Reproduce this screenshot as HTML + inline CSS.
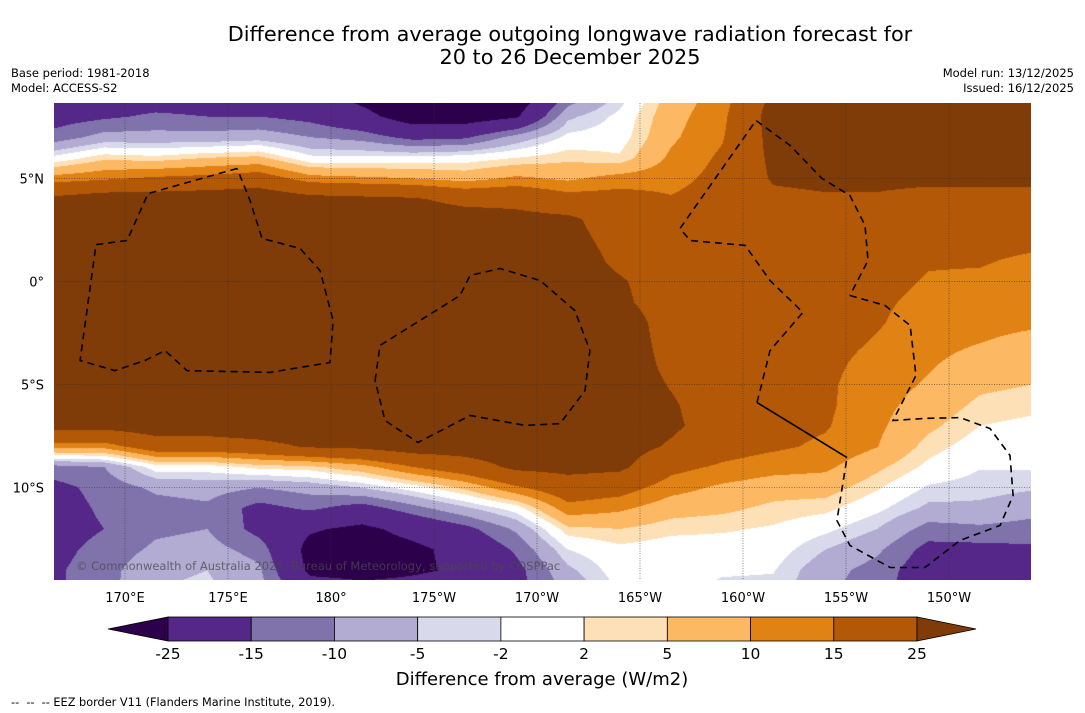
<!DOCTYPE html>
<html><head><meta charset="utf-8">
<style>
html,body{margin:0;padding:0;background:#fff;}
#wrap{position:relative;width:1085px;height:713px;overflow:hidden;font-family:"DejaVu Sans","Liberation Sans",sans-serif;color:#000;}
canvas{position:absolute;left:54px;top:103px;}
svg{position:absolute;left:0;top:0;}
</style></head>
<body>
<div id="wrap">
<canvas id="map" width="977" height="477"></canvas>
<svg id="ov" width="1085" height="713"></svg>
</div>
<script>
// ---- data ----
const gridLons = [166.5,169,171.5,174,176.5,179,181.5,184,186.5,189,191.5,194,196.5,199,201.5,204,206.5,209,211.5,214];
const gridLats = [9,8,7,6,5,4,3,2,1,0,-1,-2,-3,-4,-5,-6,-7,-8,-9,-10,-11,-12,-13,-14,-15];
const col0 = [-20,-18,-13,-1,12,27,30,30,30,30,30,30,30,30,30,30,28,12,-12,-17,-18,-18,-17,-16,-16];
const col1 = [-19,-16,-8,4,14,30,30,30,30,30,30,30,30,30,30,30,28,12,-10,-13,-14,-15,-13,-12,-12];
const col2 = [-19,-14,-8,3,16,30,30,30,30,30,30,30,30,30,30,30,30,20,0,-9,-12,-11,-9,-6,-5];
const col3 = [-19,-15,-8,5,17,31,30,30,30,30,30,30,30,30,30,30,30,20,0,-8,-11,-10,-8,-5,-4];
const col4 = [-20,-15,-7,6,19,32,31,31,31,31,31,31,31,31,31,31,31,22,3,-10,-17,-17,-12,-9,-8];
const col5 = [-21,-17,-10,-1,12,28,31,31,31,31,31,31,31,31,31,31,32,26,4,-8,-14,-24,-28,-27,-20];
const col6 = [-28,-22,-12,-1,11,27,31,31,31,31,31,31,31,31,31,31,32,27,8,-5,-18,-27,-30,-28,-22];
const col7 = [-34,-30,-17,-1,10,26,31,31,31,31,31,31,31,31,31,31,32,30,15,0,-12,-22,-27,-26,-22];
const col8 = [-34,-30,-16,0,8,22,30,31,31,31,31,31,31,31,31,31,32,30,20,6,-6,-17,-22,-24,-20];
const col9 = [-32,-26,-8,2,11,22,28,30,30,30,30,30,30,30,30,30,32,31,27,14,0,-9,-14,-17,-17];
const col10 = [-14,-6,-1,4,9,18,27,28,30,30,30,30,30,30,30,30,31,30,28,20,13,4,-2,-6,-9];
const col11 = [-4,-1,0,2.5,12,18,20,22,23,26,27,30,30,30,30,30,30,29,27,18,11,5,1,0,-1.5];
const col12 = [7,8,9,11,13,15.5,17,18,19,20,20,21,22,23,24.5,26,26.5,24,17,12,7,3,0,0,-1];
const col13 = [12,13.5,14.5,16,17,18,19,19,19,19,19,19,19.5,20,20,20,21,18,14,9,6,2.5,0,-1.5,-3];
const col14 = [27,29,28,27,26,23,21,20,20,19,18,18,18,18,18,18,17,16,12,7,4,1.5,0,-1.8,-3];
const col15 = [32,31,30,29,27,24,22,21,20,19,18,17,17,16.5,16,16,15.5,14,11,7,3,-1,-5,-8,-9];
const col16 = [33,32,31,30,27,24,21,19,18,17,16,15.5,14.5,13,12,11.5,11,10.2,6,2.5,-1,-5,-9,-12,-13];
const col17 = [33,32,31,30,27,22,19,17,15.5,14.5,13.5,12.5,11.5,10.5,9.5,8,6,3.5,1,-2.5,-6,-12,-17,-19,-19];
const col18 = [33,32,31,30,27,22,19,17,15.5,14,12.5,11,10,8,6,4,2,0,-1.8,-3.5,-6,-11,-17,-19,-19];
const col19 = [33,32,31,30,27,22,18,16.5,14,12.5,11.5,10.5,9,7,5,3,1,0,-1.5,-4.5,-8,-12,-16,-18,-18];
const levels = [-25,-15,-10,-5,-2,2,5,10,15,25];
const levelColors = ["#2d004b","#542788","#8073ac","#b2abd2","#d8daeb","#ffffff","#fee0b6","#fdb863","#e08214","#b35806","#7f3b08"];
const lonTicks = [170,175,180,185,190,195,200,205,210];
const lonTickLabels = ["170°E","175°E","180°","175°W","170°W","165°W","160°W","155°W","150°W"];
const latTicks = [5,0,-5,-10];
const latTickLabels = ["5°N","0°","5°S","10°S"];
// EEZ borders (lon, lat)
const eezA = [[175.44,5.48],[171.12,4.27],[170.10,1.99],[168.59,1.79],[167.82,-3.83],[169.51,-4.32],[170.97,-3.83],[171.94,-3.35],[173.01,-4.32],[177.04,-4.41],[179.95,-3.93],[180.10,-1.89],[179.47,0.53],[178.50,1.60],[176.65,2.09],[176.07,3.93],[175.44,5.48]];
const eezB = [[182.14,-4.80],[182.38,-3.10],[184.32,-1.89],[186.26,-0.68],[186.75,0.29],[188.20,0.63],[190.15,0.05],[191.84,-1.41],[192.57,-3.35],[192.33,-5.29],[191.12,-6.89],[189.42,-6.98],[186.75,-6.50],[184.22,-7.81],[182.62,-6.74],[182.14,-4.80]];
const eezC = [[205.19,-0.68],[206.89,-1.16],[208.11,-2.13],[208.40,-4.56],[207.28,-6.74],[208.83,-6.64],[210.53,-6.60],[211.99,-7.13],[212.96,-8.44],[213.11,-10.38],[212.48,-11.83],[210.53,-12.56],[208.83,-13.87],[207.14,-13.87],[205.19,-12.80],[204.56,-11.59],[205.05,-8.54]];
const eezSolid = [[205.05,-8.54],[200.68,-5.87]];
const eezD = [[200.68,-5.87],[200.83,-5.29],[201.31,-3.35],[202.91,-1.50],[201.31,0.05],[200.10,1.75],[197.43,1.99],[196.94,2.57],[200.63,7.81],[202.28,6.60],[203.83,5.00],[205.19,4.17],[205.92,2.72],[206.07,1.02],[205.19,-0.68]];

const cols = [col0,col1,col2,col3,col4,col5,col6,col7,col8,col9,col10,col11,col12,col13,col14,col15,col16,col17,col18,col19];

// ---- axes ----
const MAPX=54, MAPY=103, MAPW=977, MAPH=477;
function xOf(lon){return 125+(lon-170)*20.6;}
function yOf(lat){return 281.5-lat*20.62;}
function lonOf(x){return 170+(x-125)/20.6;}
function latOf(y){return (281.5-y)/20.62;}
function hex(c){return [parseInt(c.slice(1,3),16),parseInt(c.slice(3,5),16),parseInt(c.slice(5,7),16)];}
const rgb = levelColors.map(hex);
function classify(v){let k=0;while(k<levels.length&&v>=levels[k])k++;return k;}
function sample(lon,lat){
  const dl=gridLons[1]-gridLons[0];
  let fi=(lon-gridLons[0])/dl; fi=Math.max(0,Math.min(gridLons.length-1.0001,fi));
  let fj=(gridLats[0]-lat)/(gridLats[0]-gridLats[1]); fj=Math.max(0,Math.min(gridLats.length-1.0001,fj));
  const i=Math.floor(fi), j=Math.floor(fj), a=fi-i, b=fj-j;
  const v00=cols[i][j], v10=cols[i+1][j], v01=cols[i][j+1], v11=cols[i+1][j+1];
  return (v00*(1-a)+v10*a)*(1-b)+(v01*(1-a)+v11*a)*b;
}
const cv=document.getElementById('map'); const ctx=cv.getContext('2d');
const img=ctx.createImageData(MAPW,MAPH);
for(let py=0;py<MAPH;py++){
  const lat=latOf(MAPY+py+0.5);
  for(let px=0;px<MAPW;px++){
    const lon=lonOf(MAPX+px+0.5);
    const c=rgb[classify(sample(lon,lat))];
    const o=(py*MAPW+px)*4;
    img.data[o]=c[0];img.data[o+1]=c[1];img.data[o+2]=c[2];img.data[o+3]=255;
  }
}
ctx.putImageData(img,0,0);

// ---- overlay ----
const NS="http://www.w3.org/2000/svg";
const svg=document.getElementById('ov');
function mk(tag,attrs,parent){const e=document.createElementNS(NS,tag);for(const k in attrs)e.setAttribute(k,attrs[k]);(parent||svg).appendChild(e);return e;}
function txt(s,attrs,parent){const e=mk('text',attrs,parent);e.textContent=s;return e;}

const clip=mk('clipPath',{id:'mapclip'}); mk('rect',{x:MAPX,y:MAPY,width:MAPW,height:MAPH},clip);
const grid=mk('g',{'clip-path':'url(#mapclip)'});


lonTicks.forEach(function(lon){
  const l=mk('line',{x1:xOf(lon),x2:xOf(lon),y1:MAPY,y2:MAPY+MAPH,stroke:'#333','stroke-width':0.7,'stroke-dasharray':'1,1.5','stroke-opacity':0.8},grid);
  
  
});
latTicks.forEach(function(lat){
  const l=mk('line',{x1:MAPX,x2:MAPX+MAPW,y1:yOf(lat),y2:yOf(lat),stroke:'#333','stroke-width':0.7,'stroke-dasharray':'1,1.5','stroke-opacity':0.8},grid);
  
  
});
function poly(pts,dash,name){
  const d=pts.map(function(p,i){return (i?'L':'M')+xOf(p[0]).toFixed(1)+','+yOf(p[1]).toFixed(1);}).join('');
  const p=mk('path',{d:d,fill:'none',stroke:'#000','stroke-width':1.6,'stroke-dasharray':dash},grid);
  
  
}
poly(eezA,'7,5','eez-border-west');
poly(eezB,'7,5','eez-border-central');
poly(eezC,'7,5','eez-border-southeast');
poly(eezSolid,'none','eez-border-solid-segment');
poly(eezD,'7,5','eez-border-east');

const cr=txt('© Commonwealth of Australia 2025, Bureau of Meteorology, supported by COSPPac',{x:76,y:570,'font-size':11.5,fill:'#4a4a4a','fill-opacity':0.75});



lonTicks.forEach(function(lon,i){
  const t=txt(lonTickLabels[i],{x:xOf(lon),y:602,'font-size':13,'text-anchor':'middle'});
  
  
});
latTicks.forEach(function(lat,i){
  const t=txt(latTickLabels[i],{x:44,y:yOf(lat)+5,'font-size':13,'text-anchor':'end'});
  
  
});

// title / notes
const t1=txt('Difference from average outgoing longwave radiation forecast for',{x:570,y:41,'font-size':20.8,'text-anchor':'middle'});


const t2=txt('20 to 26 December 2025',{x:570,y:64,'font-size':20.8,'text-anchor':'middle'});


[['Base period: 1981-2018',11,77,'start','base-period-note'],['Model: ACCESS-S2',11,92,'start','model-note'],['Model run: 13/12/2025',1074,77,'end','model-run-note'],['Issued: 16/12/2025',1074,92,'end','issued-note']].forEach(function(n){
  const e=txt(n[0],{x:n[1],y:n[2],'font-size':11.5,'text-anchor':n[3]});
  
  
});

// colorbar
const cbL=168, cbR=917, cbT=617, cbB=641;
const cbw=(cbR-cbL)/(levels.length-1);
const cb=mk('g',{});


const lt=mk('polygon',{points:(108)+','+((cbT+cbB)/2)+' '+cbL+','+cbT+' '+cbL+','+cbB,fill:levelColors[0],stroke:'#000','stroke-width':0.8},cb);


for(let k=0;k<levels.length-1;k++){
  const r=mk('rect',{x:cbL+k*cbw,y:cbT,width:cbw,height:cbB-cbT,fill:levelColors[k+1],stroke:'#000','stroke-width':0.8},cb);
  
  
}
const rt=mk('polygon',{points:cbR+','+cbT+' '+cbR+','+cbB+' '+976+','+((cbT+cbB)/2),fill:levelColors[levels.length],stroke:'#000','stroke-width':0.8},cb);


levels.forEach(function(v,k){
  const t=txt(String(v),{x:cbL+k*cbw,y:659,'font-size':15.5,'text-anchor':'middle'},cb);
  
  
});
const cbt=txt('Difference from average (W/m2)',{x:542,y:685,'font-size':18,'text-anchor':'middle'});


const ft=txt('--  --  -- EEZ border V11 (Flanders Marine Institute, 2019).',{x:11,y:706,'font-size':11.3,style:'white-space:pre'});


</script>
</body></html>
